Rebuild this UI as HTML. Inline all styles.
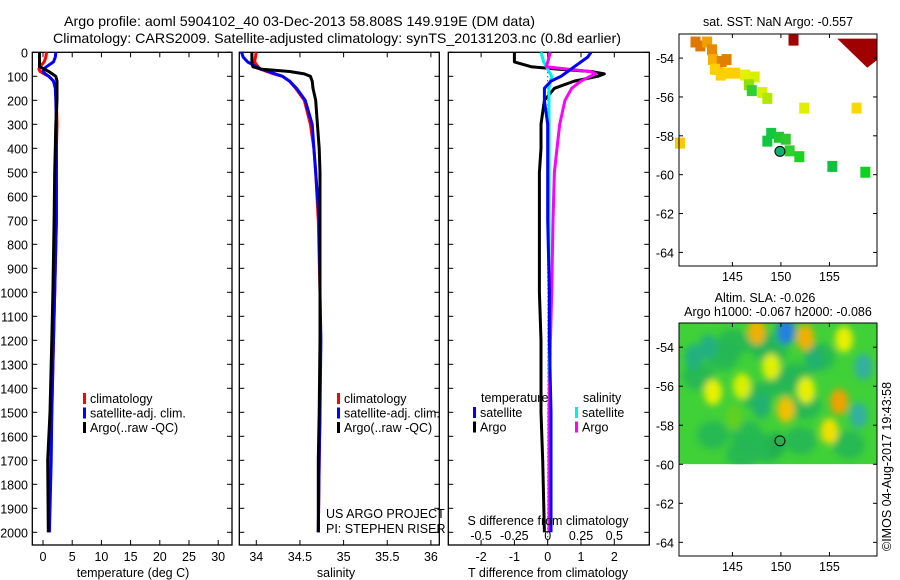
<!DOCTYPE html>
<html><head><meta charset="utf-8"><style>
body{margin:0;background:#fff}
svg{display:block;font-family:"Liberation Sans",sans-serif}
</style></head><body>
<svg id="chart" width="900" height="580" viewBox="0 0 900 580">
<rect x="0" y="0" width="900" height="580" fill="#fff"/>
<text x="64" y="26" font-size="14" textLength="471" lengthAdjust="spacingAndGlyphs">Argo profile: aoml 5904102_40 03-Dec-2013 58.808S 149.919E (DM data)</text>
<text x="53" y="43" font-size="14" textLength="568" lengthAdjust="spacingAndGlyphs">Climatology: CARS2009. Satellite-adjusted climatology: synTS_20131203.nc (0.8d earlier)</text>
<g id="g"></g>
</svg>
<script>
// ---- data ----
const depths = [0,20,40,60,70,80,90,100,120,150,200,300,400,500,700,1000,1200,1500,1700,2000];
const tempClim = [0.6,0.5,0.2,-0.5,-0.7,-0.5,0.2,1.0,1.8,2.2,2.3,2.4,2.3,2.3,2.3,2.0,1.8,1.5,1.3,1.0];
const tempSat  = [2.2,2.1,1.8,0.6,0.1,0.0,0.4,1.0,1.8,2.1,2.2,2.3,2.3,2.3,2.3,2.0,1.8,1.5,1.4,1.1];
const tempArgo = [-0.6,-0.6,-0.6,-0.6,0.2,1.0,1.6,2.2,2.4,2.4,2.4,2.2,2.1,2.0,1.9,1.7,1.5,1.2,0.8,0.9];
const salClim  = [34.00,33.99,33.98,34.02,34.05,34.12,34.20,34.30,34.38,34.45,34.55,34.62,34.66,34.68,34.71,34.73,34.73,34.73,34.72,34.71];
const salSat   = [33.83,33.85,33.90,34.00,34.05,34.14,34.22,34.30,34.38,34.46,34.56,34.64,34.66,34.68,34.72,34.73,34.74,34.73,34.72,34.71];
const salArgo  = [33.95,33.95,33.95,33.96,34.05,34.38,34.55,34.62,34.64,34.65,34.68,34.70,34.72,34.73,34.73,34.73,34.73,34.72,34.71,34.71];
const dTsat  = [1.3,1.2,1.0,0.8,0.7,0.6,0.5,0.4,0.1,-0.1,-0.1,0.0,0.0,0.0,0.0,0.05,0.05,0.1,0.1,0.1];
const dTargo = [-1.0,-1.0,-1.0,-0.5,0.3,1.3,1.7,1.5,0.8,0.2,-0.1,-0.2,-0.2,-0.25,-0.25,-0.25,-0.2,-0.2,-0.15,-0.1];
const dSsat  = [-0.05,-0.04,-0.03,-0.01,0.0,0.01,0.02,0.03,0.02,0.01,0.01,0.01,0.01,0.01,0.01,0.01,0.01,0.01,0.01,0.01];
const dSargo = [0.02,0.01,0.0,-0.01,0.15,0.32,0.36,0.32,0.25,0.18,0.13,0.09,0.07,0.05,0.04,0.03,0.02,0.01,0.01,0.01];
const depthTicks = [0,100,200,300,400,500,600,700,800,900,1000,1100,1200,1300,1400,1500,1600,1700,1800,1900,2000];
const tempTicks = [0,5,10,15,20,25,30];
const salTicks = [34,34.5,35,35.5,36];
const salTickLabels = ["34","34.5","35","35.5","36"];
const dTTicks = [-2,-1,0,1,2];
const dSTicks = [-0.5,-0.25,0,0.25,0.5];
const dSTickLabels = ["-0.5","-0.25","0","0.25","0.5"];
const latTicks = [-54,-56,-58,-60,-62,-64];
const lonTicks = [145,150,155];
// SST map cells: lon, lat, colour
const sstLon = [141.2,141.7,142.4,142.9,143.0,143.5,143.9,144.4,143.2,143.8,144.5,145.3,146.3,147.3,146.7,147.0,148.1,148.6,152.4,157.8,151.3,149.0,148.6,149.8,150.5,150.9,151.9,155.3,158.7,139.6];
const sstLat = [-53.2,-53.4,-53.2,-53.6,-54.1,-54.6,-54.2,-54.1,-54.6,-54.9,-54.8,-54.8,-54.9,-55.0,-55.4,-55.7,-55.8,-56.1,-56.6,-56.6,-53.1,-57.9,-58.3,-58.1,-58.2,-58.8,-59.1,-59.6,-59.9,-58.4];
const sstCol = ["#e07800","#e07800","#f0a000","#e88800","#f8b000","#f8c000","#e08000","#e08000","#fcd000","#fcd000","#fcd000","#fcd000","#e4f000","#d8f000","#90e000","#30d030","#d8f000","#b0e800","#e0f000","#f8d800","#a00000","#10c840","#10c840","#20c830","#30c830","#30d030","#20d020","#10c040","#10d020","#f8c800"];
// SLA blobs: lon, lat, colour
const slaLon = [141.5,144,146.5,148.5,150,152,145,147.5,149,151.5,154,157,146,148,143,152.5,150.5,141,143,146,148,149,150.5,156,155,156.5,158,152.6,158.5,142.5,145.2,149.5,153.5,147.5,152.5,150.5];
const slaLat = [-55.5,-54.5,-58.5,-59.2,-55.8,-58.8,-53.8,-56.5,-54.2,-55.5,-54.5,-59,-59.5,-53.8,-58.5,-57,-53.2,-54.5,-56.3,-56,-57,-55,-57.2,-56.8,-58.3,-53.6,-57.5,-56.2,-55,-54,-57.6,-59,-54.6,-53.2,-53.5,-53.2];
const slaCol = ["#22b458","#22b458","#22b458","#22b458","#22b458","#22b458","#22b458","#22b458","#22b458","#22b458","#22b458","#22b458","#22b458","#22b458","#22b458","#22b458","#2080e0","#20b080","#e8f000","#d8f000","#20b070","#e0f000","#f0c000","#f0a000","#f0e000","#e8f000","#30b0a0","#e8f000","#30b0a0","#20b080","#60d020","#20b050","#20b070","#f0b000","#f0b000","#2080e0"];

const NS="http://www.w3.org/2000/svg";
const G=document.getElementById('g');
function mk(tag,attrs,parent){const e=document.createElementNS(NS,tag);for(const k in attrs)e.setAttribute(k,attrs[k]);(parent||G).appendChild(e);return e;}
function txt(s,x,y,size,anchor,parent){const e=mk('text',{x:x,y:y,'font-size':size,'text-anchor':anchor||'start'},parent);e.textContent=s;return e;}

const Y0=52.3, PY=0.24, FB=545;
const yD=d=>Y0+d*PY;
const xT=v=>43+v*5.84;
const xS=v=>256.3+(v-34)*87.3;
const xDT=v=>547.7+v*33.3;
const xDS=v=>547.7+v*133.2;

function frame(x1,x2,name){
  const r=mk('rect',{x:x1,y:Y0,width:x2-x1,height:FB-Y0,fill:'none',stroke:'#000','stroke-width':1.3});
  
  
  depthTicks.forEach(d=>{mk('line',{x1:x1,x2:x1+5,y1:yD(d),y2:yD(d),stroke:'#000'});mk('line',{x1:x2,x2:x2-5,y1:yD(d),y2:yD(d),stroke:'#000'});});
}
function profile(vals,xf,col,name){
  let p='';vals.forEach((v,i)=>{p+=(i?'L':'M')+xf(v).toFixed(1)+','+yD(depths[i]).toFixed(1);});
  const e=mk('path',{d:p,fill:'none',stroke:col,'stroke-width':3,'stroke-linejoin':'round'});
  
  
}
function legend(x,y,items){
  items.forEach((it,i)=>{mk('rect',{x:x,y:y+i*14.5-10,width:3,height:11,fill:it[1]});const t=txt(it[0],x+7,y+i*14.5,12.5);});
}

// Panel 1 temperature
frame(32.3,232,'temperature-panel');
depthTicks.forEach(d=>{const t=txt(String(d),28,yD(d)+5,12.5,'end');});
tempTicks.forEach(v=>{mk('line',{x1:xT(v),x2:xT(v),y1:Y0,y2:Y0+5,stroke:'#000'});mk('line',{x1:xT(v),x2:xT(v),y1:FB,y2:FB-5,stroke:'#000'});txt(String(v),xT(v),561,12.5,'middle');});
profile(tempClim,xT,'#f00','temp-climatology-line');
profile(tempSat,xT,'#00f','temp-satellite-line');
profile(tempArgo,xT,'#000','temp-argo-line');
txt('temperature (deg C)',133,577,12.5,'middle');
legend(83,403,[['climatology','#f00'],['satellite-adj. clim.','#00f'],['Argo(..raw -QC)','#000']]);

// Panel 2 salinity
frame(239.3,439.3,'salinity-panel');
salTicks.forEach((v,i)=>{mk('line',{x1:xS(v),x2:xS(v),y1:Y0,y2:Y0+5,stroke:'#000'});mk('line',{x1:xS(v),x2:xS(v),y1:FB,y2:FB-5,stroke:'#000'});txt(salTickLabels[i],xS(v),561,12.5,'middle');});
profile(salClim,xS,'#f00','sal-climatology-line');
profile(salSat,xS,'#00f','sal-satellite-line');
profile(salArgo,xS,'#000','sal-argo-line');
txt('salinity',336,577,12.5,'middle');
legend(337,403,[['climatology','#f00'],['satellite-adj. clim.','#00f'],['Argo(..raw -QC)','#000']]);
txt('US ARGO PROJECT',326,518,12.5);
txt('PI: STEPHEN RISER',326,533,12.5);

// Panel 3 differences
frame(448.3,649.3,'difference-panel');
mk('line',{x1:xDT(0),x2:xDT(0),y1:Y0,y2:FB,stroke:'#000','stroke-dasharray':'1,3'});
dTTicks.forEach(v=>{mk('line',{x1:xDT(v),x2:xDT(v),y1:Y0,y2:Y0+5,stroke:'#000'});mk('line',{x1:xDT(v),x2:xDT(v),y1:FB,y2:FB-5,stroke:'#000'});txt(String(v),xDT(v),561,12.5,'middle');});
profile(dTargo,xDT,'#000','tdiff-argo-line');
profile(dSsat,xDS,'#0ee','sdiff-satellite-line');
profile(dSargo,xDS,'#f0f','sdiff-argo-line');
profile(dTsat,xDT,'#00f','tdiff-satellite-line');
dSTicks.forEach((v,i)=>txt(dSTickLabels[i],xDS(v),540,12.5,'middle'));
txt('S difference from climatology',548,525,12.5,'middle');
txt('T difference from climatology',548,577,12.5,'middle');
txt('temperature',481,402,12.5);txt('salinity',583,402,12.5);
legend(473,417,[['satellite','#00f'],['Argo','#000']]);
legend(575,417,[['satellite','#0ee'],['Argo','#f0f']]);

// Maps
function map(top,bottom,name){
  const L=679,R=877;
  const xL=v=>L+(v-139.5)*(R-L)/20.4;
  const yL=v=>top+(-52.76-v)*(bottom-top)/11.94;
  return {L,R,xL,yL,top,bottom,name};
}
function mapFrame(m){
  const r=mk('rect',{x:m.L,y:m.top,width:m.R-m.L,height:m.bottom-m.top,fill:'none',stroke:'#000','stroke-width':1});
  
  
  latTicks.forEach(v=>{mk('line',{x1:m.L,x2:m.L+4,y1:m.yL(v),y2:m.yL(v),stroke:'#000'});mk('line',{x1:m.R,x2:m.R-4,y1:m.yL(v),y2:m.yL(v),stroke:'#000'});txt(String(v),m.L-5,m.yL(v)+5,12.5,'end');});
  lonTicks.forEach(v=>{mk('line',{x1:m.xL(v),x2:m.xL(v),y1:m.bottom,y2:m.bottom-4,stroke:'#000'});mk('line',{x1:m.xL(v),x2:m.xL(v),y1:m.top,y2:m.top+4,stroke:'#000'});txt(String(v),m.xL(v),m.bottom+15,12.5,'middle');});
}
const m1=map(34,266,'sst-map');
txt('sat. SST: NaN Argo: -0.557',778,26,12.5,'middle');
sstLon.forEach((lo,i)=>{const r=mk('rect',{x:m1.xL(lo)-5,y:m1.yL(sstLat[i])-6,width:10,height:11,fill:sstCol[i]});});
mk('polygon',{points:`${m1.xL(155.8)},${m1.yL(-53.0)} ${m1.R},${m1.yL(-53.0)} ${m1.R},${m1.yL(-54.1)} ${m1.xL(158.9)},${m1.yL(-54.5)}`,fill:'#a00000'});
mk('circle',{cx:m1.xL(149.9),cy:m1.yL(-58.8),r:5,fill:'#10b070',stroke:'#000'});
mapFrame(m1);

const m2=map(323,556,'sla-map');
txt('Altim. SLA: -0.026',765,302,12.5,'middle');
txt('Argo h1000: -0.067 h2000: -0.086',778,316,12.5,'middle');
const defs=mk('defs',{});const f=mk('filter',{id:'bl',x:'-50%',y:'-50%',width:'200%',height:'200%'},defs);mk('feGaussianBlur',{stdDeviation:3.5},f);
const cp=mk('clipPath',{id:'clp'},defs);mk('rect',{x:m2.L,y:m2.top,width:m2.R-m2.L,height:m2.yL(-60)-m2.top},cp);
const sg=mk('g',{'clip-path':'url(#clp)'});
mk('rect',{x:m2.L,y:m2.top,width:m2.R-m2.L,height:m2.yL(-60)-m2.top,fill:'#40d038'},sg);
const bg=mk('g',{filter:'url(#bl)'},sg);
slaLon.forEach((lo,i)=>{const e=mk('ellipse',{cx:m2.xL(lo),cy:m2.yL(slaLat[i]),rx:i<16?16:9,ry:i<16?14:13,fill:slaCol[i],'fill-opacity':i<16?0.8:1},bg);});
mk('circle',{cx:m2.xL(149.9),cy:m2.yL(-58.8),r:5,fill:'none',stroke:'#000'});
mapFrame(m2);
const c=txt('©IMOS 04-Aug-2017 19:43:58',0,0,12.5);c.setAttribute('transform','translate(891,551) rotate(-90)');
</script>
</body></html>
